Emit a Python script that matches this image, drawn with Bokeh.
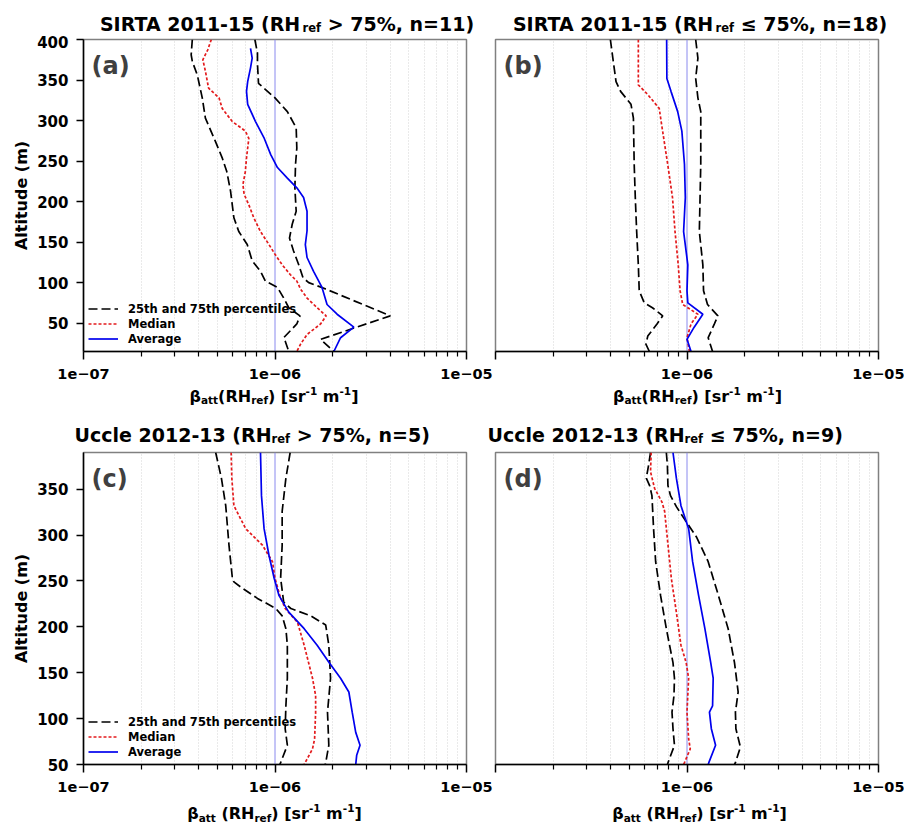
from bokeh.plotting import figure
from bokeh.models import Label, Span, FixedTicker, Legend, LegendItem, Range1d
from bokeh.layouts import column, row
from bokeh.embed import file_html
from bokeh.resources import INLINE

FONT = "DejaVu Sans"

# ---------------- data ----------------
X_TICKS = [1e-7, 1e-6, 1e-5]
X_TICK_LABELS = ["1e\u221207", "1e\u221206", "1e\u221205"]
X_MINOR = [m * 10.0 ** e for e in (-7, -6) for m in range(2, 10)]
Y_TICKS_SIRTA = [50, 100, 150, 200, 250, 300, 350, 400]
Y_TICKS_UCCLE = [50, 100, 150, 200, 250, 300, 350]

TITLES = [
    ("SIRTA 2011-15 (RH", "ref", "> 75%, n=11)"),
    ("SIRTA 2011-15 (RH", "ref", "\u2264 75%, n=18)"),
    ("Uccle 2012-13 (RH", "ref", "> 75%, n=5)"),
    ("Uccle 2012-13 (RH", "ref", "\u2264 75%, n=9)"),
]
LETTERS = ["(a)", "(b)", "(c)", "(d)"]
LEGEND_LABELS = ["25th and 75th percentiles", "Median", "Average"]

# Panel (a) SIRTA RH>75%
A_P25_ALT = [400, 381, 373, 356, 328, 303, 274, 254, 237, 213, 180, 163, 147, 127, 114, 102, 94, 81, 69, 59, 49, 32, 28, 15]
A_P25 = [3.70e-7, 3.65e-7, 3.70e-7, 3.93e-7, 4.17e-7, 4.33e-7, 4.89e-7, 5.3e-7, 5.6e-7, 5.86e-7, 6.1e-7, 6.47e-7, 7.16e-7, 7.6e-7, 8.4e-7, 8.9e-7, 1.03e-6, 1.11e-6, 1.18e-6, 1.35e-6, 1.30e-6, 1.11e-6, 1.13e-6, 1.18e-6]
A_P75_ALT = [400, 383, 370, 346, 340, 328, 311, 291, 266, 246, 217, 188, 172, 155, 139, 122, 106, 100, 93, 59, 30, 15]
A_P75 = [7.85e-7, 8.1e-7, 8.1e-7, 8.2e-7, 8.75e-7, 1.0e-6, 1.16e-6, 1.29e-6, 1.30e-6, 1.28e-6, 1.27e-6, 1.29e-6, 1.23e-6, 1.19e-6, 1.25e-6, 1.33e-6, 1.40e-6, 1.5e-6, 1.8e-6, 4.0e-6, 1.73e-6, 2.03e-6]
A_MED_ALT = [400, 387, 375, 361, 340, 328, 315, 299, 287, 278, 254, 237, 221, 209, 196, 180, 163, 147, 135, 122, 110, 102, 92, 81, 69, 59, 49, 36, 24, 15]
A_MED = [4.65e-7, 4.45e-7, 4.2e-7, 4.33e-7, 4.5e-7, 5.1e-7, 5.3e-7, 5.97e-7, 7.0e-7, 7.3e-7, 7.1e-7, 7.0e-7, 6.8e-7, 6.9e-7, 7.3e-7, 7.75e-7, 8.4e-7, 9.3e-7, 1.0e-6, 1.09e-6, 1.2e-6, 1.3e-6, 1.36e-6, 1.47e-6, 1.66e-6, 1.85e-6, 1.73e-6, 1.47e-6, 1.36e-6, 1.30e-6]
A_AVG_ALT = [389, 377, 365, 348, 336, 320, 299, 279, 258, 242, 229, 217, 205, 188, 164, 147, 131, 114, 94, 73, 61, 45, 32, 15]
A_AVG = [7.45e-7, 7.6e-7, 7.45e-7, 7.2e-7, 7.1e-7, 7.2e-7, 7.9e-7, 8.75e-7, 9.5e-7, 1.03e-6, 1.16e-6, 1.30e-6, 1.41e-6, 1.47e-6, 1.47e-6, 1.44e-6, 1.47e-6, 1.59e-6, 1.76e-6, 1.87e-6, 2.11e-6, 2.58e-6, 2.2e-6, 2.03e-6]

# Panel (b) SIRTA RH<=75%
B_P25_ALT = [400, 377, 348, 336, 320, 303, 246, 205, 163, 122, 90, 75, 69, 59, 49, 34, 24, 15]
B_P25 = [3.98e-7, 4.1e-7, 4.26e-7, 4.5e-7, 5.1e-7, 5.25e-7, 5.3e-7, 5.37e-7, 5.46e-7, 5.57e-7, 5.63e-7, 5.98e-7, 6.6e-7, 7.47e-7, 6.97e-7, 6.24e-7, 6.1e-7, 6.36e-7]
B_P75_ALT = [400, 377, 352, 328, 311, 246, 205, 163, 122, 90, 73, 59, 49, 32, 15]
B_P75 = [1.11e-6, 1.14e-6, 1.11e-6, 1.14e-6, 1.18e-6, 1.18e-6, 1.17e-6, 1.16e-6, 1.21e-6, 1.22e-6, 1.28e-6, 1.45e-6, 1.39e-6, 1.29e-6, 1.36e-6]
B_MED_ALT = [400, 344, 332, 315, 295, 246, 205, 163, 122, 90, 73, 61, 49, 32, 15]
B_MED = [5.57e-7, 5.57e-7, 6.24e-7, 7.16e-7, 7.37e-7, 7.93e-7, 8.4e-7, 8.66e-7, 9.0e-7, 9.2e-7, 9.5e-7, 1.14e-6, 1.05e-6, 1.0e-6, 1.03e-6]
B_AVG_ALT = [400, 352, 336, 311, 287, 246, 205, 163, 122, 90, 75, 61, 45, 30, 15]
B_AVG = [7.83e-7, 7.85e-7, 8.25e-7, 8.94e-7, 9.4e-7, 9.7e-7, 9.8e-7, 9.6e-7, 1.01e-6, 1.0e-6, 1.01e-6, 1.21e-6, 1.09e-6, 1.0e-6, 1.05e-6]

# Panel (c) Uccle RH>75%
C_P25_ALT = [390, 362, 332, 289, 253, 249, 242, 231, 220, 212, 198, 180, 144, 114, 89, 71, 52, 50]
C_P25 = [4.9e-7, 5.25e-7, 5.53e-7, 5.75e-7, 5.99e-7, 6.1e-7, 6.76e-7, 8.1e-7, 1.01e-6, 1.09e-6, 1.14e-6, 1.16e-6, 1.16e-6, 1.14e-6, 1.13e-6, 1.16e-6, 1.07e-6, 1.06e-6]
C_P75_ALT = [390, 362, 326, 289, 253, 227, 220, 212, 202, 180, 144, 107, 71, 52, 50]
C_P75 = [1.2e-6, 1.14e-6, 1.09e-6, 1.09e-6, 1.07e-6, 1.11e-6, 1.21e-6, 1.54e-6, 1.84e-6, 1.91e-6, 1.95e-6, 1.88e-6, 1.91e-6, 1.84e-6, 1.83e-6]
C_MED_ALT = [390, 362, 332, 307, 289, 271, 253, 234, 220, 205, 180, 144, 125, 107, 78, 67, 50]
C_MED = [5.9e-7, 5.95e-7, 6.1e-7, 7.03e-7, 8.6e-7, 9.7e-7, 1.0e-6, 1.06e-6, 1.13e-6, 1.31e-6, 1.42e-6, 1.57e-6, 1.63e-6, 1.63e-6, 1.61e-6, 1.57e-6, 1.42e-6]
C_AVG_ALT = [390, 343, 307, 278, 253, 234, 216, 198, 180, 161, 144, 129, 107, 85, 71, 60, 50]
C_AVG = [8.4e-7, 8.5e-7, 8.77e-7, 9.3e-7, 9.9e-7, 1.05e-6, 1.18e-6, 1.42e-6, 1.66e-6, 1.92e-6, 2.2e-6, 2.43e-6, 2.53e-6, 2.64e-6, 2.78e-6, 2.67e-6, 2.64e-6]

# Panel (d) Uccle RH<=75%
D_P25_ALT = [390, 376, 362, 354, 343, 307, 271, 234, 198, 161, 144, 125, 107, 89, 71, 52, 50]
D_P25 = [6.45e-7, 6.3e-7, 6.13e-7, 6.38e-7, 6.56e-7, 6.69e-7, 6.86e-7, 7.28e-7, 7.8e-7, 8.45e-7, 8.6e-7, 8.55e-7, 8.35e-7, 8.45e-7, 8.6e-7, 7.96e-7, 7.9e-7]
D_P75_ALT = [390, 376, 354, 343, 331, 316, 298, 271, 234, 198, 161, 129, 107, 89, 69, 52, 50]
D_P75 = [7.8e-7, 7.9e-7, 7.95e-7, 8.2e-7, 8.8e-7, 9.8e-7, 1.12e-6, 1.29e-6, 1.46e-6, 1.64e-6, 1.77e-6, 1.85e-6, 1.79e-6, 1.8e-6, 1.9e-6, 1.79e-6, 1.77e-6]
D_MED_ALT = [390, 369, 351, 336, 326, 289, 253, 216, 180, 161, 144, 107, 78, 67, 52, 50]
D_MED = [6.5e-7, 6.45e-7, 6.77e-7, 7.4e-7, 7.64e-7, 7.96e-7, 8.28e-7, 8.8e-7, 9.3e-7, 9.9e-7, 1.02e-6, 1.0e-6, 1.02e-6, 1.04e-6, 9.7e-7, 9.6e-7]
D_AVG_ALT = [390, 362, 332, 307, 271, 234, 198, 161, 144, 114, 107, 89, 71, 52, 50]
D_AVG = [8.45e-7, 8.8e-7, 9.3e-7, 1.02e-6, 1.07e-6, 1.15e-6, 1.24e-6, 1.33e-6, 1.37e-6, 1.36e-6, 1.31e-6, 1.34e-6, 1.41e-6, 1.3e-6, 1.29e-6]

# ---------------- helpers ----------------
CW = {' ': .348, '(': .457, ')': .457, '[': .457, ']': .457, '-': .415, '\u2212': .838,
      '>': .838, '\u2264': .838, '=': .838, '%': 1.002, ',': .380, '.': .380,
      'A': .774, 'H': .837, 'I': .372, 'R': .770, 'S': .720, 'T': .682, 'U': .812,
      'a': .675, 'c': .593, 'e': .678, 'f': .435, 'l': .343, 'm': 1.042, 'n': .712,
      'r': .493, 's': .595, 't': .478, '\u03b2': .716}
for _d in "0123456789":
    CW[_d] = .696

LEFT_W, RIGHT_W = 494, 410
TOTAL_W = LEFT_W + RIGHT_W
BASE_FIX = 6  # renderer places the alphabetic baseline this many px lower


def tw(s, size):
    return sum(CW.get(ch, 0.65) for ch in s) * size


def strip(width, height):
    s = figure(width=width, height=height, x_range=Range1d(0, width), y_range=Range1d(0, height),
               output_backend="svg", toolbar_location=None, x_axis_location=None,
               y_axis_location=None, min_border=0)
    s.outline_line_color = None
    s.grid.visible = False
    s.background_fill_color = "white"
    s.border_fill_color = "white"
    return s


def rich(s, pieces, cx, base, color="#000000"):
    """pieces: (text, size, dy, lead_space_size); cx, base in strip pixel coords (y up)"""
    total = sum(tw(t, sz) + (tw(" ", ls) if ls else 0) for t, sz, dy, ls in pieces)
    x = cx - total / 2.0
    for t, sz, dy, ls in pieces:
        if ls:
            x += tw(" ", ls)
        s.add_layout(Label(x=x, y=base + dy + BASE_FIX, x_units="data", y_units="data", text=t,
                           text_font=FONT, text_font_size=f"{sz}px", text_font_style="bold",
                           text_color=color, text_align="left", text_baseline="alphabetic"))
        x += tw(t, sz)


def title_strip(idx, width, height, cx, base):
    s = strip(width, height)
    t1, t2, t3 = TITLES[idx]
    rich(s, [(t1, 19, 0, 0), (t2, 11.5, -4, 0), (t3, 19, 0, 19)], cx, base)
    return s


def xlabel_strip(width, height, cx, base, space):
    s = strip(width, height)
    pieces = [("\u03b2", 16, 0, 0), ("att", 10.5, -4, 0),
              ("(RH", 16, 0, 16 if space else 0), ("ref", 10.5, -4, 0),
              (")", 16, 0, 0), ("[sr", 16, 0, 16), ("-1", 10.5, 5.5, 0),
              ("m", 16, 0, 16), ("-1", 10.5, 5.5, 0), ("]", 16, 0, 0)]
    rich(s, pieces, cx, base)
    return s


def panel(idx, series, ylo, yhi, yticks, left, height, mtop, mbottom):
    if left:
        width, mleft, mright = LEFT_W, 83, 28
    else:
        width, mleft, mright = RIGHT_W, 1, 26
    p = figure(width=width, height=height, x_axis_type="log",
               x_range=Range1d(1e-7, 1e-5), y_range=Range1d(ylo, yhi),
               output_backend="svg", toolbar_location=None,
               min_border_left=mleft, min_border_right=mright,
               min_border_top=mtop, min_border_bottom=mbottom)
    p.background_fill_color = "white"
    p.border_fill_color = "white"
    p.outline_line_color = "#808080"
    p.outline_line_width = 1.5

    xt = FixedTicker(ticks=X_TICKS, minor_ticks=X_MINOR)
    p.xaxis.ticker = xt
    p.xgrid.ticker = xt
    p.xgrid.grid_line_color = None
    p.xgrid.minor_grid_line_color = "#d4d4d4"
    p.xgrid.minor_grid_line_dash = "1 2"
    p.xgrid.minor_grid_line_width = 1
    p.ygrid.visible = False

    overrides = dict(zip(X_TICKS, X_TICK_LABELS))
    if not left:
        overrides[X_TICKS[0]] = ""
    p.xaxis.major_label_overrides = overrides
    for ax in (p.xaxis, p.yaxis):
        ax.axis_line_color = "#000000"
        ax.axis_line_width = 1.5
        ax.major_tick_line_color = "#000000"
        ax.major_tick_line_width = 1.5
        ax.minor_tick_line_color = "#000000"
        ax.minor_tick_line_width = 1.2
        ax.major_tick_in = 0
        ax.minor_tick_in = 0
        ax.major_label_text_font = FONT
        ax.major_label_text_font_style = "bold"
        ax.major_label_text_color = "#000000"
    p.xaxis.major_label_text_font_size = "14.5px"
    p.yaxis.major_label_text_font_size = "15px"
    p.xaxis.major_tick_out = 8
    p.xaxis.minor_tick_out = 5
    p.xaxis.major_label_standoff = 9

    p.yaxis.ticker = FixedTicker(ticks=yticks)
    p.yaxis.minor_tick_line_color = None
    p.yaxis.major_tick_out = 7
    p.yaxis.major_label_standoff = 8
    if left:
        p.yaxis.axis_label = "Altitude (m)"
        p.yaxis.axis_label_text_font = FONT
        p.yaxis.axis_label_text_font_style = "bold"
        p.yaxis.axis_label_text_font_size = "16px"
        p.yaxis.axis_label_text_color = "#000000"
        p.yaxis.axis_label_standoff = 3
    else:
        p.yaxis.visible = False

    span = Span(location=1e-6, dimension="height", line_color="#8a8aee", line_width=1)
    span.level = "underlay"
    p.add_layout(span)

    (p25a, p25), (p75a, p75), (meda, med), (avga, avg) = series
    r25 = p.line(p25, p25a, line_color="#000000", line_width=1.7, line_dash="9 4")
    p.line(p75, p75a, line_color="#000000", line_width=1.7, line_dash="9 4")
    rmed = p.line(med, meda, line_color="#e31a1c", line_width=1.7, line_dash="3 2")
    ravg = p.line(avg, avga, line_color="#0000ee", line_width=1.7)

    if left:
        legend = Legend(items=[LegendItem(label=LEGEND_LABELS[0], renderers=[r25]),
                               LegendItem(label=LEGEND_LABELS[1], renderers=[rmed]),
                               LegendItem(label=LEGEND_LABELS[2], renderers=[ravg])],
                        location=(5, 5), padding=0, margin=0, spacing=0,
                        glyph_width=30, glyph_height=15, label_height=15, label_standoff=10,
                        label_text_font=FONT, label_text_font_style="bold",
                        label_text_font_size="11.5px", label_text_color="#000000",
                        border_line_color=None, background_fill_alpha=0)
        p.add_layout(legend)

    p.add_layout(Label(x=1e-7, y=yhi, x_units="data", y_units="data", x_offset=8, y_offset=-12,
                       text=LETTERS[idx], text_font=FONT, text_font_size="24px",
                       text_font_style="bold", text_color="#404040", text_align="left",
                       text_baseline="top"))
    return p


# row 1: titles 0-35, panels 35-385 (frame 39-351), x labels 385-418
# row 2: titles 418-448, panels 448-798 (frame 452-764), x labels 798-827
ta = title_strip(0, LEFT_W, 35, 286.5, 35 - 29.3)
tb = title_strip(1, RIGHT_W, 35, 699.5 - LEFT_W, 35 - 29.3)
pa = panel(0, [(A_P25_ALT, A_P25), (A_P75_ALT, A_P75), (A_MED_ALT, A_MED), (A_AVG_ALT, A_AVG)],
           15, 400, Y_TICKS_SIRTA, True, 350, 4, 34)
pb = panel(1, [(B_P25_ALT, B_P25), (B_P75_ALT, B_P75), (B_MED_ALT, B_MED), (B_AVG_ALT, B_AVG)],
           15, 400, Y_TICKS_SIRTA, False, 350, 4, 34)
xa = xlabel_strip(LEFT_W, 33, 273.5, 418 - 401.7, False)
xb = xlabel_strip(RIGHT_W, 33, 697 - LEFT_W, 418 - 401.7, False)

SPLIT2 = 460
tc = title_strip(2, SPLIT2, 30, 251.7, 448 - 440.7)
td = title_strip(3, TOTAL_W - SPLIT2, 30, 664.7 - SPLIT2, 448 - 440.7)
pc = panel(2, [(C_P25_ALT, C_P25), (C_P75_ALT, C_P75), (C_MED_ALT, C_MED), (C_AVG_ALT, C_AVG)],
           50, 390, Y_TICKS_UCCLE, True, 350, 4, 34)
pd = panel(3, [(D_P25_ALT, D_P25), (D_P75_ALT, D_P75), (D_MED_ALT, D_MED), (D_AVG_ALT, D_AVG)],
           50, 390, Y_TICKS_UCCLE, False, 350, 4, 34)
xc = xlabel_strip(LEFT_W, 29, 274, 827 - 819, True)
xd = xlabel_strip(RIGHT_W, 29, 699 - LEFT_W, 827 - 819, True)

layout = column(row(ta, tb), row(pa, pb), row(xa, xb),
                row(tc, td), row(pc, pd), row(xc, xd))
open("out.html", "w").write(file_html(layout, INLINE))
